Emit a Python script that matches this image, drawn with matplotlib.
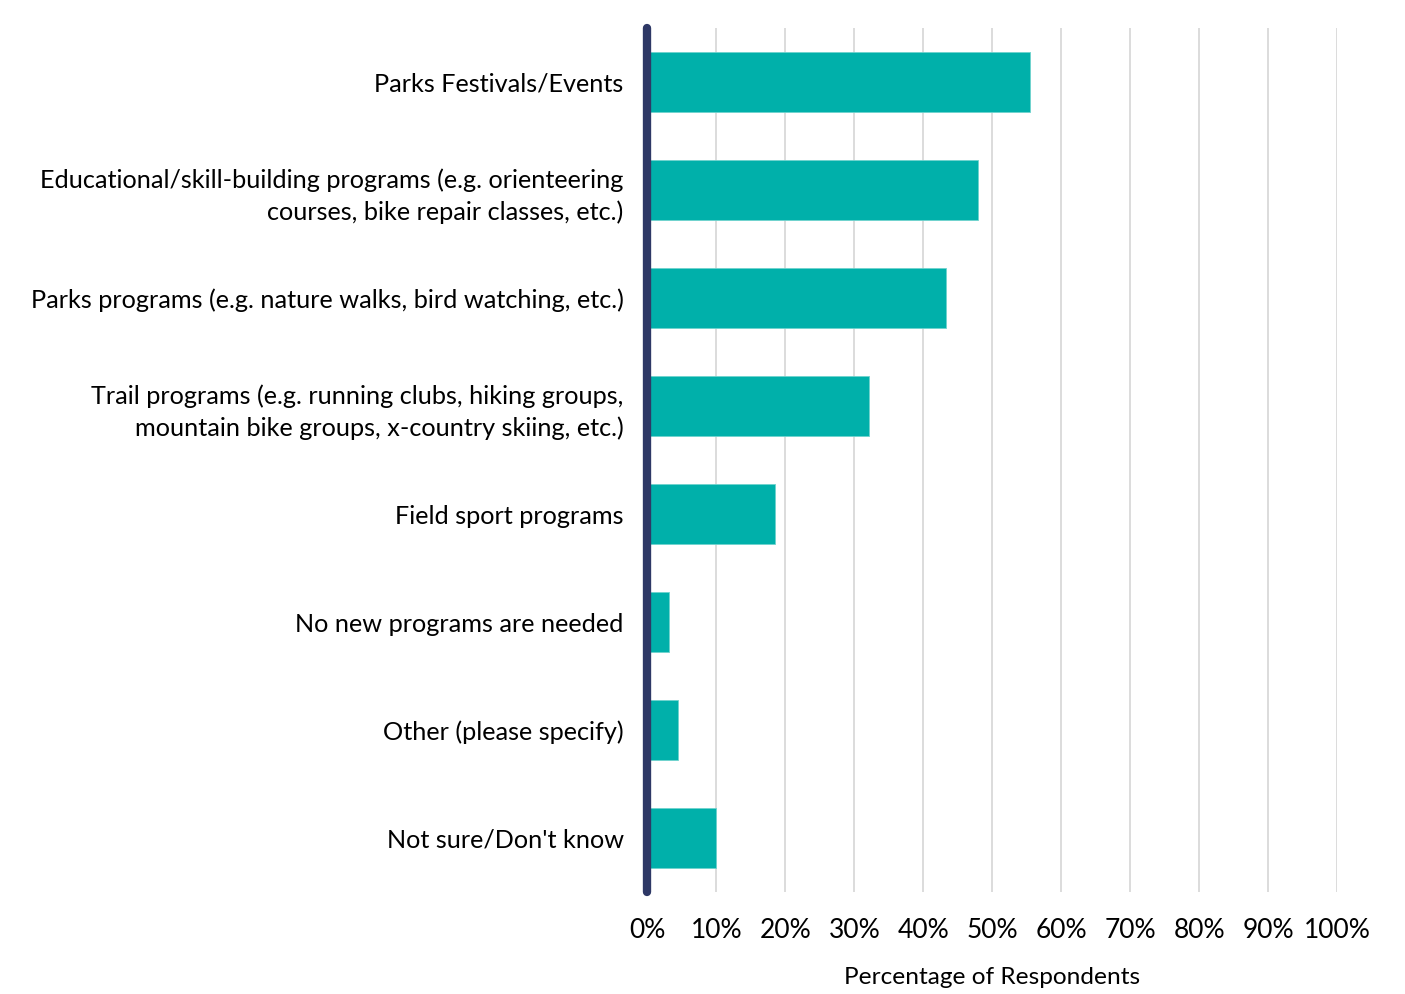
import matplotlib.pyplot as plt
from matplotlib.ticker import PercentFormatter

plt.rcParams['font.family'] = ['Lato', 'DejaVu Sans']

# Survey responses: which new programs respondents would like to see
categories = [
    'Parks Festivals/Events',
    'Educational/skill-building programs (e.g. orienteering\ncourses, bike repair classes, etc.)',
    'Parks programs (e.g. nature walks, bird watching, etc.)',
    'Trail programs (e.g. running clubs, hiking groups,\nmountain bike groups, x-country skiing, etc.)',
    'Field sport programs',
    'No new programs are needed',
    'Other (please specify)',
    "Not sure/Don't know",
]
percentages = [55.5, 48.0, 43.3, 32.1, 18.5, 3.1, 4.5, 9.9]
x_ticks = list(range(0, 101, 10))

bar_color = '#00B0AA'
axis_color = '#2E3866'

fig = plt.figure(figsize=(14.05, 9.94), dpi=100)
ax = fig.add_axes([0.4607, 0.1026, 0.4911, 0.8692])

y = list(range(len(categories)))
ax.barh(y, percentages, height=0.555, color=bar_color, edgecolor='#6FD3CE',
        linewidth=0.6, zorder=3)
ax.set_ylim(len(categories) - 0.5, -0.5)
ax.set_xlim(0, 100)

ax.set_yticks(y)
ax.set_yticklabels(categories, fontsize=18.2, linespacing=1.45, ha='right')
ax.tick_params(axis='y', length=0, pad=17)

ax.set_xticks(x_ticks)
ax.xaxis.set_major_formatter(PercentFormatter(decimals=0))
ax.tick_params(axis='x', length=0, pad=19, labelsize=19)
ax.set_xlabel('Percentage of Respondents', fontsize=17.6, labelpad=17)

ax.grid(axis='x', color='#D9D9D9', linewidth=1.3, zorder=0)
for side in ['top', 'right', 'bottom', 'left']:
    ax.spines[side].set_visible(False)

# thick rounded baseline at 0%
ax.plot([0, 0], [len(categories) - 0.5, -0.5], color=axis_color, linewidth=6,
        solid_capstyle='round', clip_on=False, zorder=4)

fig.savefig('out.png', dpi=100)
